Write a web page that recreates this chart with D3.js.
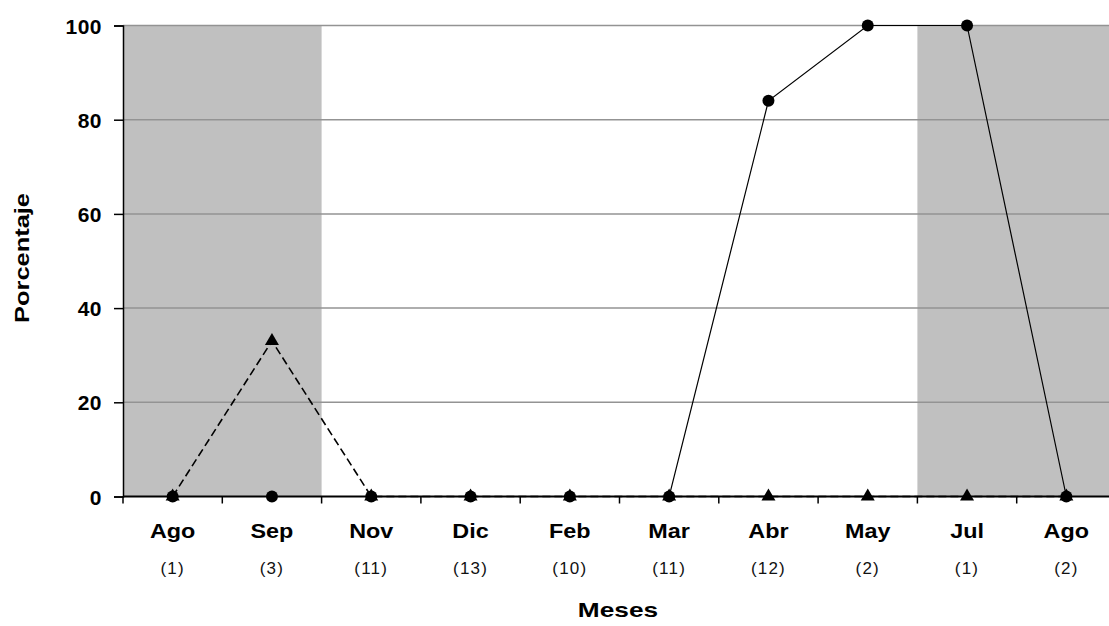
<!DOCTYPE html>
<html>
<head>
<meta charset="utf-8">
<script src="https://cdn.jsdelivr.net/npm/d3@7/dist/d3.min.js"></script>
<style>
  body { margin: 0; background: #fff; }
  svg { display: block; font-family: "Liberation Sans", Arial, sans-serif; }
</style>
</head>
<body>
<svg id="chart" width="1109" height="626"></svg>
<script>
// ---- data ----
const months = ["Ago", "Sep", "Nov", "Dic", "Feb", "Mar", "Abr", "May", "Jul", "Ago"];
const counts = ["(1)", "(3)", "(11)", "(13)", "(10)", "(11)", "(12)", "(2)", "(1)", "(2)"];
const circleSeries = [0, 0, 0, 0, 0, 0, 84, 100, 100, 0];
const triangleSeries = [0, 33, 0, 0, 0, 0, 0, 0, 0, 0];
const yTicks = [0, 20, 40, 60, 80, 100];
const shadedRanges = [[0, 1], [8, 9]]; // category index ranges with gray background

// ---- layout ----
const svg = d3.select("#chart");
const mLeft = 123, mRight = 1116, mTop = 25.5, mBottom = 496.5;

const idx = months.map((d, i) => i);
const xBand = d3.scaleBand().domain(idx).range([mLeft, mRight]).padding(0);
const xc = i => xBand(i) + xBand.bandwidth() / 2;
const y = d3.scaleLinear().domain([0, 100]).range([mBottom, mTop]);

function stretch(sel, factor) {
  sel.each(function () {
    const l = this.getComputedTextLength();
    d3.select(this).attr("textLength", l * factor).attr("lengthAdjust", "spacingAndGlyphs");
  });
}

// shaded regions
svg.append("g").selectAll("rect").data(shadedRanges).join("rect")
  .attr("x", d => xBand(d[0]))
  .attr("width", d => xBand(d[1]) + xBand.bandwidth() - xBand(d[0]))
  .attr("y", y(100))
  .attr("height", y(0) - y(100))
  .attr("fill", "#c0c0c0");

// gridlines
svg.append("g").selectAll("line").data(yTicks.filter(t => t > 0)).join("line")
  .attr("x1", mLeft).attr("x2", mRight)
  .attr("y1", d => y(d)).attr("y2", d => y(d))
  .attr("stroke", "#939393").attr("stroke-width", 1.5);

// y axis
const yAxis = d3.axisLeft(y).tickValues(yTicks).tickSize(9).tickPadding(12).tickFormat(d3.format("d"));
const gy = svg.append("g").attr("transform", `translate(${mLeft},0)`).call(yAxis);
gy.select(".domain").attr("stroke", "#000").attr("stroke-width", 1.5);
gy.selectAll(".tick line").attr("stroke", "#000").attr("stroke-width", 1.5);
gy.selectAll(".tick text")
  .attr("font-size", 21).attr("font-weight", "bold").attr("fill", "#000")
  .attr("letter-spacing", 0.5).attr("dy", "0.36em")
  .attr("font-family", "'Liberation Sans', Arial, sans-serif");

// x axis ticks at band boundaries
const bounds = idx.map(i => xBand(i)).concat([mRight]);
svg.append("g").selectAll("line").data(bounds).join("line")
  .attr("x1", d => d).attr("x2", d => d)
  .attr("y1", mBottom).attr("y2", mBottom + 7)
  .attr("stroke", "#000").attr("stroke-width", 1.5);

// x labels
const xl = svg.append("g").selectAll("text").data(idx).join("text")
  .attr("x", i => xc(i)).attr("y", 538)
  .attr("text-anchor", "middle")
  .attr("font-size", 20.5).attr("font-weight", "bold")
  .text(i => months[i]);
stretch(xl, 1.14);

svg.append("g").selectAll("text").data(idx).join("text")
  .attr("x", i => xc(i)).attr("y", 574)
  .attr("text-anchor", "middle")
  .attr("font-size", 17).attr("letter-spacing", 1.2)
  .attr("fill", "#111")
  .text(i => counts[i]);

// lines
const line = d3.line().x((d, i) => xc(i)).y(d => y(d));
svg.append("path").datum(triangleSeries)
  .attr("d", line).attr("fill", "none")
  .attr("stroke", "#000").attr("stroke-width", 1.6).attr("stroke-dasharray", "8,4");
svg.append("path").datum(circleSeries)
  .attr("d", line).attr("fill", "none")
  .attr("stroke", "#000").attr("stroke-width", 1.2);

// x axis domain line
svg.append("line")
  .attr("x1", mLeft).attr("x2", mRight).attr("y1", mBottom).attr("y2", mBottom)
  .attr("stroke", "#000").attr("stroke-width", 2);

// markers
const tri = d3.symbol().type(d3.symbolTriangle).size(85);
svg.append("g").selectAll("path").data(triangleSeries).join("path")
  .attr("d", tri)
  .attr("transform", (d, i) => `translate(${xc(i)},${y(d)})`)
  .attr("fill", "#000");
svg.append("g").selectAll("circle").data(circleSeries).join("circle")
  .attr("cx", (d, i) => xc(i)).attr("cy", d => y(d))
  .attr("r", 6).attr("fill", "#000");

// axis titles
const mt = svg.append("text")
  .attr("x", 618).attr("y", 617)
  .attr("text-anchor", "middle")
  .attr("font-size", 20.5).attr("font-weight", "bold")
  .text("Meses");
stretch(mt, 1.28);

const pt = svg.append("text")
  .attr("transform", `translate(29,${(mTop + mBottom) / 2 - 3}) rotate(-90)`)
  .attr("text-anchor", "middle")
  .attr("font-size", 20.5).attr("font-weight", "bold")
  .text("Porcentaje");
stretch(pt, 1.24);
</script>
</body>
</html>
